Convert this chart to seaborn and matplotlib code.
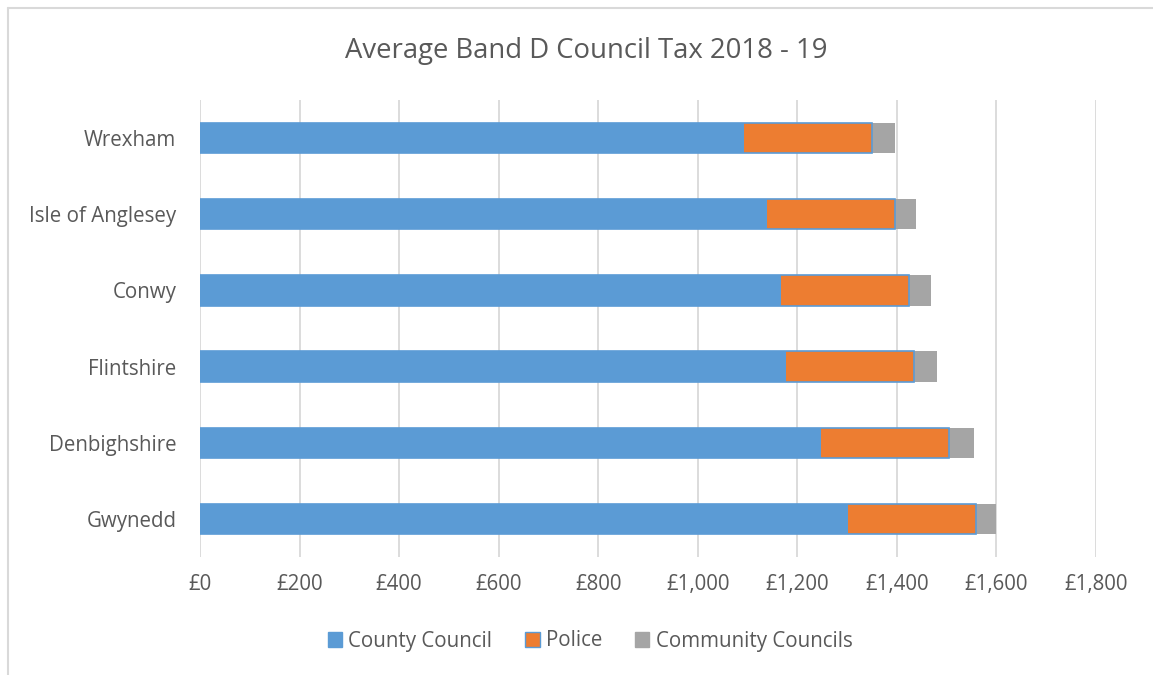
import matplotlib
matplotlib.use("Agg")
import matplotlib.pyplot as plt
import seaborn as sns
import pandas as pd
from matplotlib.lines import Line2D
from matplotlib.patches import Patch

authorities = ["Wrexham", "Isle of Anglesey", "Conwy", "Flintshire", "Denbighshire", "Gwynedd"]
county_council = [1093, 1140, 1168, 1178, 1248, 1301]
police = [256, 257, 257, 256, 257, 257]
community_councils = [47, 42, 43, 46, 49, 42]
x_ticks = [0, 200, 400, 600, 800, 1000, 1200, 1400, 1600, 1800]
x_labels = ["£0", "£200", "£400", "£600", "£800", "£1,000", "£1,200", "£1,400", "£1,600", "£1,800"]

sns.set_style("white")
plt.rcParams['font.family'] = ['Open Sans', 'DejaVu Sans']

blue = "#5B9BD5"
orange = "#ED7D31"
grey = "#A5A5A5"
text_col = "#595959"

df = pd.DataFrame({
    "Authority": authorities,
    "County": county_council,
    "Police": police,
    "Community": community_councils,
})
df["CP"] = df["County"] + df["Police"]
df["Total"] = df["CP"] + df["Community"]

fig = plt.figure(figsize=(11.53, 6.75), dpi=100)
ax = fig.add_axes([200 / 1153, 1 - 557 / 675, 896 / 1153, 457 / 675])

bw = 0.4
sns.barplot(data=df, y="Authority", x="Total", color=grey, width=bw, ax=ax,
            orient="h", saturation=1, linewidth=0)
sns.barplot(data=df, y="Authority", x="CP", color=orange, width=bw, ax=ax,
            orient="h", saturation=1, edgecolor=blue, linewidth=1.2)
sns.barplot(data=df, y="Authority", x="County", color=blue, width=bw, ax=ax,
            orient="h", saturation=1, linewidth=0)

ax.set_xlim(0, 1800)
ax.set_ylim(5.5, -0.5)
ax.set_xticks(x_ticks)
ax.set_xticklabels(x_labels)
ax.set_xlabel("")
ax.set_ylabel("")
ax.xaxis.grid(True, color="#D9D9D9", linewidth=1.3)
ax.set_axisbelow(True)
for s in ["top", "right", "bottom", "left"]:
    ax.spines[s].set_visible(False)
ax.tick_params(axis="both", length=0, labelsize=14.8, colors=text_col)
ax.tick_params(axis="y", pad=17)
ax.tick_params(axis="x", pad=12)

fig.text(0.5 + 10 / 1153, 1 - 51 / 675, "Average Band D Council Tax 2018 - 19",
         ha="center", va="center", fontsize=19.8, color=text_col)

handles = [Patch(facecolor=blue, edgecolor=blue, label="County Council"),
           Patch(facecolor=orange, edgecolor=blue, label="Police"),
           Patch(facecolor=grey, edgecolor=grey, label="Community Councils")]
fig.legend(handles=handles, loc="center", bbox_to_anchor=(590 / 1153, 1 - 641 / 675),
           ncol=3, frameon=False, fontsize=14.8, handlelength=0.7, handleheight=0.7,
           handletextpad=0.3, columnspacing=1.6, labelcolor=text_col)

# chart frame (top and left edges)
fig.add_artist(Line2D([8 / 1153, 1.0], [1 - 8 / 675, 1 - 8 / 675], color="#D9D9D9", lw=1.5,
                      transform=fig.transFigure))
fig.add_artist(Line2D([8 / 1153, 8 / 1153], [0.0, 1 - 8 / 675], color="#D9D9D9", lw=1.5,
                      transform=fig.transFigure))

fig.savefig("out.png", dpi=100, facecolor="white")
